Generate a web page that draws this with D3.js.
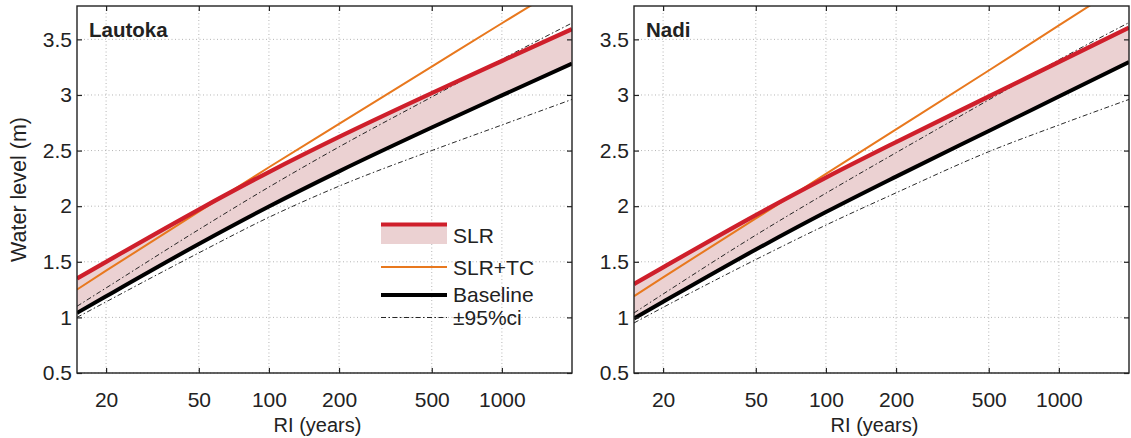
<!DOCTYPE html>
<html>
<head>
<meta charset="utf-8">
<script src="https://cdn.jsdelivr.net/npm/d3@7"></script>
<style>
  body { margin: 0; background: #fff; }
  text { font-family: "Liberation Sans", Arial, sans-serif; fill: #222; }
</style>
</head>
<body>
<svg id="chart" width="1131" height="438"></svg>
<script>
// return interval (years) where the curves were read
const riYears = [15, 20, 50, 100, 200, 500, 1000, 2000];

// Lautoka
const lautokaSLR      = [1.35, 1.50, 1.97, 2.307, 2.623, 3.017, 3.306, 3.592];
const lautokaSLRTC    = [1.25, 1.42, 1.95, 2.35, 2.74, 3.255, 3.645, 4.03];
const lautokaBaseline = [1.04, 1.19, 1.66, 1.997, 2.313, 2.707, 2.996, 3.282];
const lautokaUpper    = [1.10, 1.265, 1.79, 2.172, 2.533, 2.982, 3.321, 3.647];
const lautokaLower    = [1.00, 1.14, 1.58, 1.90, 2.18, 2.50, 2.73, 2.96];

// Nadi
const nadiSLR      = [1.30, 1.45, 1.92, 2.257, 2.576, 2.986, 3.296, 3.606];
const nadiSLRTC    = [1.19, 1.36, 1.89, 2.29, 2.69, 3.22, 3.625, 4.03];
const nadiBaseline = [0.99, 1.14, 1.61, 1.947, 2.266, 2.676, 2.986, 3.296];
const nadiUpper    = [1.04, 1.21, 1.74, 2.117, 2.481, 2.956, 3.316, 3.651];
const nadiLower    = [0.95, 1.09, 1.52, 1.83, 2.12, 2.49, 2.73, 2.96];

const xTicks = [20, 50, 100, 200, 500, 1000];
const yTicks = [0.5, 1, 1.5, 2, 2.5, 3, 3.5];
const legendLabels = ["SLR", "SLR+TC", "Baseline", "\u00b195%ci"];

const red = "#cf1f2b", orange = "#e8781e", pink = "#ebd1d2";
const dashDot = "5,2.5,1.5,2.5";

const svg = d3.select("#chart");
const plotTop = 6, plotBottom = 373;

const panels = [
  { name: "Lautoka", left: 77, right: 572, slr: lautokaSLR, tc: lautokaSLRTC,
    base: lautokaBaseline, up: lautokaUpper, lo: lautokaLower, legend: true },
  { name: "Nadi", left: 634, right: 1129, slr: nadiSLR, tc: nadiSLRTC,
    base: nadiBaseline, up: nadiUpper, lo: nadiLower, legend: false }
];

panels.forEach((p, i) => {
  const x = d3.scaleLog().domain([15, 2000]).range([p.left, p.right]);
  const y = d3.scaleLinear().domain([0.5, 3.8]).range([plotBottom, plotTop]);
  const g = svg.append("g");

  g.append("clipPath").attr("id", "clip" + i)
    .append("rect")
    .attr("x", p.left).attr("y", plotTop)
    .attr("width", p.right - p.left).attr("height", plotBottom - plotTop);

  // grid
  g.selectAll(".gx").data(xTicks).join("line")
    .attr("x1", d => x(d)).attr("x2", d => x(d))
    .attr("y1", plotTop).attr("y2", plotBottom)
    .attr("stroke", "#b5b5b5").attr("stroke-width", 1)
    .attr("stroke-dasharray", "1,2.5");
  g.selectAll(".gy").data(yTicks).join("line")
    .attr("x1", p.left).attr("x2", p.right)
    .attr("y1", d => y(d)).attr("y2", d => y(d))
    .attr("stroke", "#b5b5b5").attr("stroke-width", 1)
    .attr("stroke-dasharray", "1,2.5");

  const rows = riYears.map((ri, k) => ({
    ri, slr: p.slr[k], tc: p.tc[k], base: p.base[k], up: p.up[k], lo: p.lo[k]
  }));

  const plot = g.append("g").attr("clip-path", `url(#clip${i})`);

  plot.append("path").datum(rows)
    .attr("fill", pink)
    .attr("d", d3.area().curve(d3.curveMonotoneX)
      .x(d => x(d.ri)).y0(d => y(d.base)).y1(d => y(d.slr)));

  const line = key => d3.line().curve(d3.curveMonotoneX)
    .x(d => x(d.ri)).y(d => y(d[key]));

  ["up", "lo"].forEach(k => {
    plot.append("path").datum(rows)
      .attr("fill", "none").attr("stroke", "#111")
      .attr("stroke-width", 0.9).attr("stroke-dasharray", dashDot)
      .attr("d", line(k));
  });
  plot.append("path").datum(rows)
    .attr("fill", "none").attr("stroke", "#000").attr("stroke-width", 4)
    .attr("d", line("base"));
  plot.append("path").datum(rows)
    .attr("fill", "none").attr("stroke", orange).attr("stroke-width", 2)
    .attr("d", line("tc"));
  plot.append("path").datum(rows)
    .attr("fill", "none").attr("stroke", red).attr("stroke-width", 4.3)
    .attr("d", line("slr"));

  // axes, ticks pointing in
  const fmt = d3.format("d");
  g.append("g").attr("transform", `translate(0,${plotBottom})`)
    .call(d3.axisBottom(x).tickValues(xTicks).tickFormat(fmt)
      .tickSizeInner(-5).tickSizeOuter(0).tickPadding(19))
    .call(a => a.select(".domain").remove())
    .call(a => a.selectAll("text").attr("font-size", 21).style("font-family", null));
  g.append("g").attr("transform", `translate(0,${plotTop})`)
    .call(d3.axisTop(x).tickValues(xTicks).tickFormat("")
      .tickSizeInner(-5).tickSizeOuter(0))
    .call(a => a.select(".domain").remove());
  g.append("g").attr("transform", `translate(${p.left},0)`)
    .call(d3.axisLeft(y).tickValues(yTicks).tickFormat(d3.format("~g"))
      .tickSizeInner(-5).tickSizeOuter(0).tickPadding(5))
    .call(a => a.select(".domain").remove())
    .call(a => a.selectAll("text").attr("font-size", 21).style("font-family", null));
  g.append("g").attr("transform", `translate(${p.right},0)`)
    .call(d3.axisRight(y).tickValues(yTicks).tickFormat("")
      .tickSizeInner(-5).tickSizeOuter(0))
    .call(a => a.select(".domain").remove());
  g.selectAll(".tick line").attr("stroke", "#222").attr("stroke-width", 1.2);

  g.append("rect")
    .attr("x", p.left).attr("y", plotTop)
    .attr("width", p.right - p.left).attr("height", plotBottom - plotTop)
    .attr("fill", "none").attr("stroke", "#222").attr("stroke-width", 1.4);

  g.append("text")
    .attr("x", p.left + 12).attr("y", 36.5)
    .attr("font-size", 20.5).attr("font-weight", "bold")
    .text(p.name);

  g.append("text")
    .attr("x", (p.left + p.right) / 2 - 7).attr("y", 432)
    .attr("text-anchor", "middle").attr("font-size", 20)
    .text("RI (years)");

  if (p.legend) {
    const lx0 = 381, lx1 = 447, tx = 453;
    const lg = g.append("g");
    lg.append("rect").attr("x", lx0).attr("y", 225).attr("width", lx1 - lx0)
      .attr("height", 19).attr("fill", pink);
    lg.append("line").attr("x1", lx0).attr("x2", lx1).attr("y1", 224.5).attr("y2", 224.5)
      .attr("stroke", red).attr("stroke-width", 4);
    lg.append("line").attr("x1", lx0).attr("x2", lx1).attr("y1", 267).attr("y2", 267)
      .attr("stroke", orange).attr("stroke-width", 2);
    lg.append("line").attr("x1", lx0).attr("x2", lx1).attr("y1", 295).attr("y2", 295)
      .attr("stroke", "#000").attr("stroke-width", 4);
    lg.append("line").attr("x1", lx0).attr("x2", lx1).attr("y1", 317.5).attr("y2", 317.5)
      .attr("stroke", "#111").attr("stroke-width", 0.9).attr("stroke-dasharray", dashDot);
    const baselines = [243, 275, 302, 325];
    lg.selectAll(".lt").data(legendLabels).join("text")
      .attr("x", tx).attr("y", (d, k) => baselines[k])
      .attr("font-size", 21).text(d => d);
  }
});

svg.append("text")
  .attr("transform", `translate(26,${(plotTop + plotBottom) / 2}) rotate(-90)`)
  .attr("text-anchor", "middle").attr("font-size", 21.5)
  .text("Water level (m)");
</script>
</body>
</html>
